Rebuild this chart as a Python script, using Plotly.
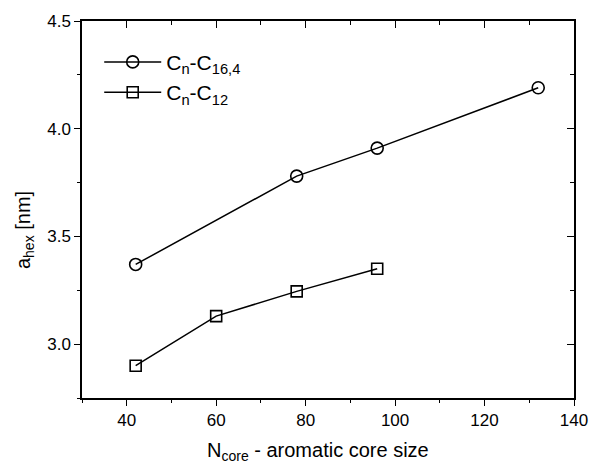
import plotly.graph_objects as go

# data
x_c16 = [42, 78, 96, 132]
y_c16 = [3.37, 3.78, 3.91, 4.19]
x_c12 = [42, 60, 78, 96]
y_c12 = [2.90, 3.13, 3.245, 3.35]

x_ticks = [40, 60, 80, 100, 120, 140]
y_ticks = [3.0, 3.5, 4.0, 4.5]

FONT = "Arial, Liberation Sans, Helvetica, sans-serif"
W, H = 600, 464
L, R, T, B = 82, 16, 19, 66
pw, ph = W - L - R, H - T - B

fig = go.Figure()
fig.add_trace(go.Scatter(
    x=x_c16, y=y_c16, mode="lines+markers",
    name="C<sub>n</sub>-C<sub>16,4</sub>",
    line=dict(color="black", width=1.5),
    marker=dict(symbol="circle-open", size=12, color="black", line=dict(width=1.6)),
))
fig.add_trace(go.Scatter(
    x=x_c12, y=y_c12, mode="lines+markers",
    name="C<sub>n</sub>-C<sub>12</sub>",
    line=dict(color="black", width=1.5),
    marker=dict(symbol="square-open", size=11, color="black", line=dict(width=1.6)),
))
# empty helper trace so the mirrored (top/right) axes get drawn
fig.add_trace(go.Scatter(x=[], y=[], xaxis="x2", yaxis="y2", showlegend=False,
                         hoverinfo="skip", mode="markers"))

axis_common = dict(showgrid=False, zeroline=False, showline=True, linecolor="black",
                   linewidth=1.5, tickcolor="black", tickwidth=1.3)

fig.update_layout(
    width=W, height=H,
    margin=dict(l=L, r=R, t=T, b=B),
    paper_bgcolor="white", plot_bgcolor="white",
    font=dict(family=FONT, color="black", size=17),
    showlegend=True,
    legend=dict(x=0.035, y=0.945, xanchor="left", yanchor="top",
                bgcolor="rgba(0,0,0,0)", font=dict(size=21), itemwidth=57,
                tracegroupgap=0),
    xaxis=dict(range=[30, 140], tickvals=x_ticks, ticktext=[str(v) for v in x_ticks],
               ticks="outside", ticklen=6, mirror=False,
               minor=dict(dtick=10, tick0=30, ticks="outside", ticklen=3.5,
                          tickcolor="black", tickwidth=1.3),
               **axis_common),
    yaxis=dict(range=[2.75, 4.5], tickvals=y_ticks, ticktext=[f"{v:.1f}" for v in y_ticks],
               ticks="outside", ticklen=6, mirror=False,
               minor=dict(dtick=0.25, tick0=2.75, ticks="outside", ticklen=3.5,
                          tickcolor="black", tickwidth=1.3),
               **axis_common),
    xaxis2=dict(range=[30, 140], overlaying="x", side="top", anchor="y2",
                tickvals=x_ticks, showticklabels=False, ticks="inside", ticklen=7,
                minor=dict(dtick=10, tick0=30, ticks="inside", ticklen=4,
                           tickcolor="black", tickwidth=1.3),
                **axis_common),
    yaxis2=dict(range=[2.75, 4.5], overlaying="y", side="right", anchor="x2",
                tickvals=y_ticks, showticklabels=False, ticks="inside", ticklen=7,
                minor=dict(dtick=0.25, tick0=2.75, ticks="inside", ticklen=4,
                           tickcolor="black", tickwidth=1.3),
                **axis_common),
)

# axis titles
fig.add_annotation(text="N<sub>core</sub> - aromatic core size", xref="paper", yref="paper",
                   x=(323 - L) / pw, y=-(452 - (T + ph)) / ph, showarrow=False,
                   xanchor="center", yanchor="middle", font=dict(size=20))
fig.add_annotation(text="a<sub>hex</sub> [nm]", xref="paper", yref="paper",
                   x=-(L - 24) / pw, y=(T + ph - 229) / ph, showarrow=False,
                   textangle=-90, xanchor="center", yanchor="middle", font=dict(size=20))

fig.write_html("out.html")
